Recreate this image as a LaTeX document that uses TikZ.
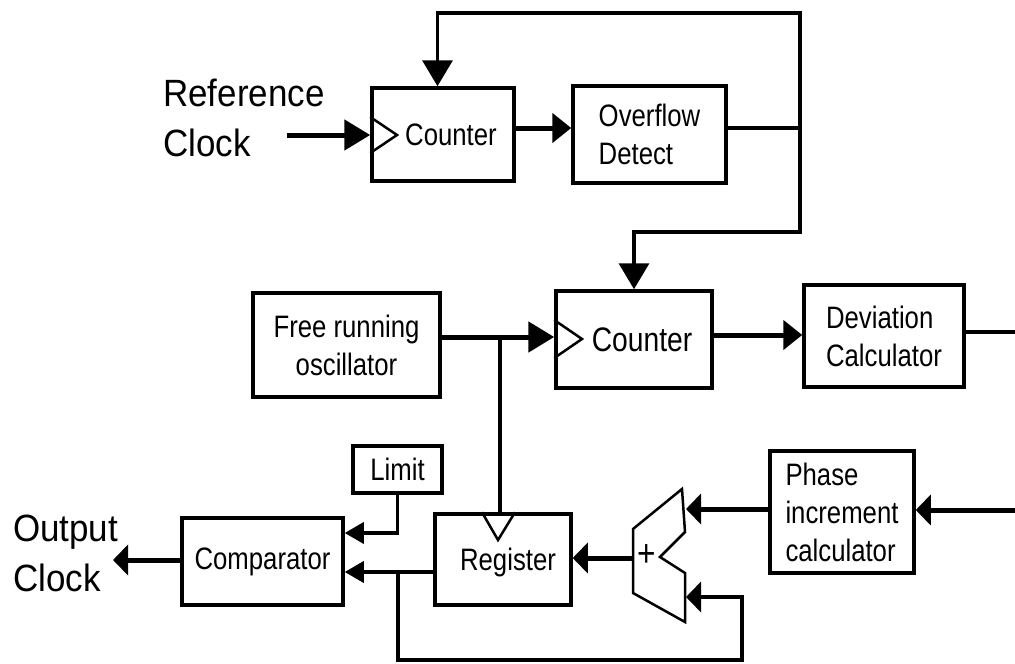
\documentclass[tikz,border=0pt]{standalone}
\usepackage{fontspec}
\setmainfont{Liberation Sans}
\newfontfamily\boxfnt{Liberation Sans}[FakeStretch=0.83]
\newfontfamily\lblfnt{Liberation Sans}[FakeStretch=0.92]
\usetikzlibrary{arrows.meta,calc}
\begin{document}
\begin{tikzpicture}[x=1pt,y=-1pt,
  blk/.style={draw,line width=3.5pt,inner sep=0pt,font=\boxfnt\fontsize{31}{38}\selectfont},
  txt/.style={inner sep=0pt,font=\boxfnt\fontsize{31}{38}\selectfont},
  big/.style={inner sep=0pt,align=left,font=\lblfnt\fontsize{38}{50}\selectfont},
  wire/.style={line width=3.5pt},
  fat/.style={line width=5pt},
  tipL/.style={-{Triangle[length=26pt,width=30pt]}},
  tipM/.style={-{Triangle[length=19pt,width=29pt]}},
  tipS/.style={-{Triangle[length=15pt,width=30pt]}},
  tipC/.style={-{Triangle[length=19pt,width=21pt]}},
  clk/.style={line width=2.5pt,line join=miter}]
\useasboundingbox[fill=white] (0,0) rectangle (1015,664);

% blocks
\node[blk,minimum width=142pt,minimum height=93pt] (cnt1) at (443,134.5) {};
\node[txt] (cnt1t) at (451,135) {Counter};
\node[blk,minimum width=153pt,minimum height=97pt,align=left] (ovf) at (649.5,134.5) {Overflow\\Detect};
\node[blk,minimum width=187pt,minimum height=104pt,align=center] (osc) at (346.5,345) {Free running\\oscillator};
\node[blk,minimum width=156pt,minimum height=97pt] (cnt2) at (634,339.5) {};
\node[txt,font=\boxfnt\fontsize{34}{38}\selectfont] (cnt2t) at (642,340) {Counter};
\node[blk,minimum width=160pt,minimum height=102pt,align=left] (dev) at (884,336) {Deviation\\Calculator};
\node[blk,minimum width=144pt,minimum height=122pt,align=left] (phase) at (842,512) {Phase\\increment\\calculator};
\node[blk,minimum width=89pt,minimum height=47pt] (limit) at (397.5,469.5) {Limit};
\node[blk,minimum width=161pt,minimum height=87pt] (comp) at (262.5,561.5) {Comparator};
\node[blk,minimum width=136pt,minimum height=91pt] (reg) at (503,559.5) {};
\node[txt] (regt) at (508,562) {Register};

% clock triangles
\draw[clk] (cnt1.west |- 0,117) -- (397,135) -- (cnt1.west |- 0,153);
\draw[clk] (cnt2.west |- 0,320) -- (582,339) -- (cnt2.west |- 0,358);
\draw[clk] (reg.north -| 482,0) -- (498,540) -- (reg.north -| 515,0);

% adder
\node[inner sep=0pt] (adder) at (659,556) {};
\draw[line width=2.5pt,line join=miter] (633,529) -- (682,489) -- (685,532) -- (660,557) -- (685,573) -- (685,622) -- (633,593) -- cycle;
\node[txt,font=\boxfnt\fontsize{38}{38}\selectfont] (plus) at (647,556) {+};
\coordinate (addin1) at (686,509);
\coordinate (addin2) at (686,597);
\coordinate (addout) at (633,558);

% labels
\node[big,anchor=west] (refclk) at (163,118) {Reference\\Clock};
\node[big,anchor=west] (outclk) at (13,553) {Output\\Clock};

% connectors
\coordinate (refin) at (287,135);
\draw[fat,tipL] (refin) -- (refin -| cnt1.west);
\draw[fat,tipM] ([yshift=6.5pt]cnt1.east) -- ([yshift=6.5pt]cnt1.east -| ovf.west);
\coordinate (j1) at (800,128);
\draw[wire] ([yshift=6.5pt]ovf.east) -- (j1);
\draw[wire,tipL] (j1) -- (800,13) -| ([xshift=-5.5pt]cnt1.north);
\draw[wire,tipL] (j1) -- (800,232) -| (cnt2.north);

\coordinate (oscout) at (osc.east |- 0,337);
\coordinate (j2) at (500,337);
\draw[fat,tipL] (oscout) -- (oscout -| cnt2.west);
\draw[wire] (j2) -- (j2 |- reg.north);

\draw[fat,tipM] (cnt2.east |- 0,335) -- (dev.west |- 0,335);
\coordinate (devout) at (1015,332);
\draw[wire] (dev.east |- devout) -- (devout);

\coordinate (phin) at (1015,510);
\draw[fat,tipS] (phin) -- (phin -| phase.east);
\draw[fat,tipS] (phase.west |- addin1) -- (addin1);
\draw[fat,tipS] (addout) -- (addout -| reg.east);

\coordinate (j3) at (398,572);
\draw[wire,tipC] (reg.west |- j3) -- (j3 -| comp.east);
\draw[wire,tipS] (j3) -- (398,660) -| (742,597) -- (addin2);
\draw[wire,tipC] (limit.south) |- (comp.east |- 0,533);

\coordinate (outtip) at (113,560);
\draw[fat,tipS] (comp.west |- outtip) -- (outtip);
\end{tikzpicture}
\end{document}
